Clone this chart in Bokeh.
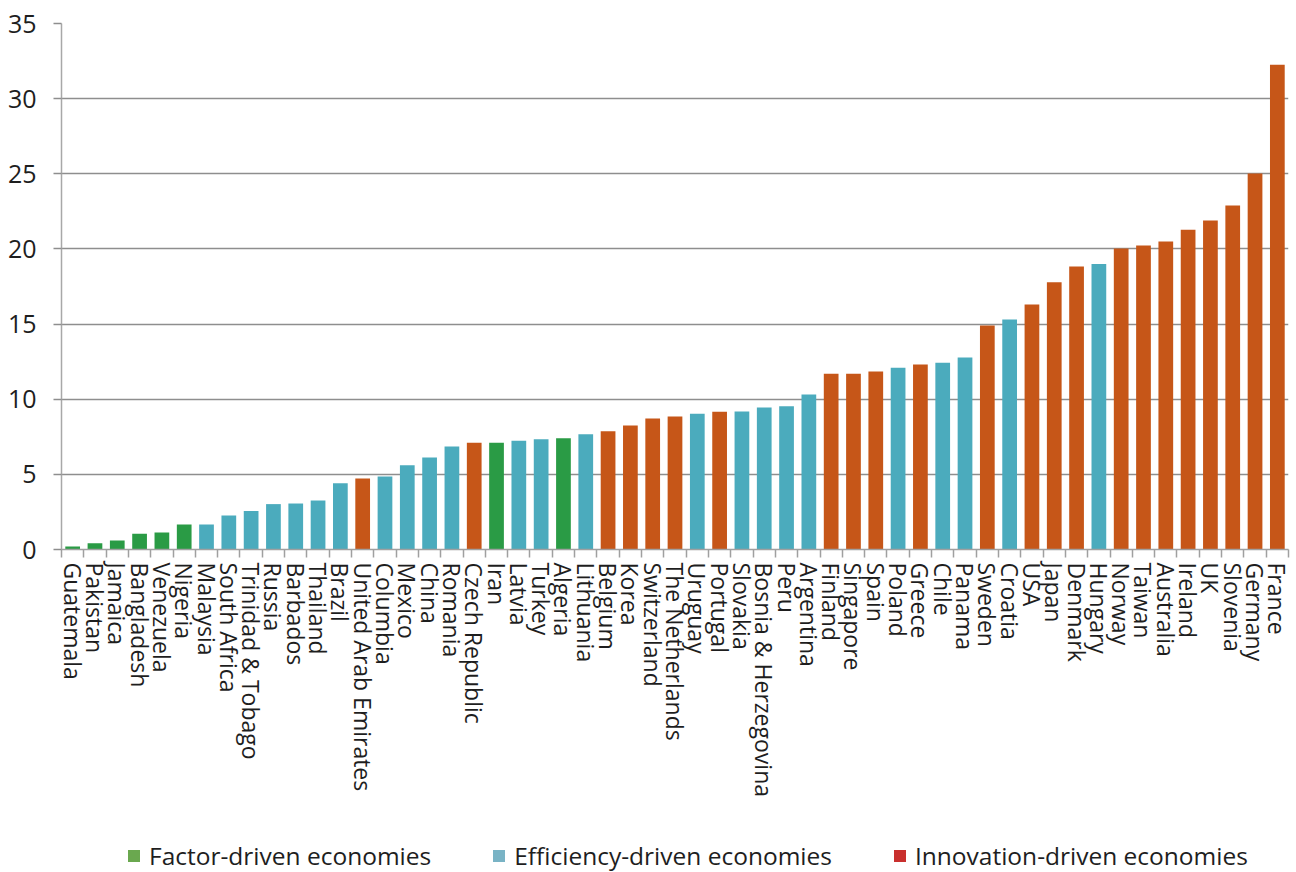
from bokeh.plotting import figure
from bokeh.layouts import column
from bokeh.models import Range1d, FixedTicker, Legend, LegendItem, ColumnDataSource
from bokeh.embed import file_html
from bokeh.resources import INLINE

countries = ["Guatemala", "Pakistan", "Jamaica", "Bangladesh", "Venezuela", "Nigeria",
             "Malaysia", "South Africa", "Trinidad & Tobago", "Russia", "Barbados", "Thailand",
             "Brazil", "United Arab Emirates", "Columbia", "Mexico", "China", "Romania",
             "Czech Republic", "Iran", "Latvia", "Turkey", "Algeria", "Lithuania", "Belgium",
             "Korea", "Switzerland", "The Netherlands", "Uruguay", "Portugal", "Slovakia",
             "Bosnia & Herzegovina", "Peru", "Argentina", "Finland", "Singapore", "Spain",
             "Poland", "Greece", "Chile", "Panama", "Sweden", "Croatia", "USA", "Japan",
             "Denmark", "Hungary", "Norway", "Taiwan", "Australia", "Ireland", "UK",
             "Slovenia", "Germany", "France"]

values = [0.2, 0.42, 0.6, 1.04, 1.13, 1.66,
          1.66, 2.26, 2.57, 3.02, 3.06, 3.26,
          4.41, 4.72, 4.86, 5.61, 6.12, 6.85,
          7.1, 7.1, 7.23, 7.34, 7.4, 7.67, 7.87,
          8.25, 8.72, 8.85, 9.03, 9.16, 9.18,
          9.45, 9.53, 10.31, 11.69, 11.69, 11.85,
          12.09, 12.31, 12.42, 12.78, 14.91, 15.31, 16.31, 17.79,
          18.83, 19.0, 20.03, 20.23, 20.49, 21.27, 21.89,
          22.89, 25.02, 32.25]

groups = ["F", "F", "F", "F", "F", "F",
          "E", "E", "E", "E", "E", "E",
          "E", "I", "E", "E", "E", "E",
          "I", "F", "E", "E", "F", "E", "I",
          "I", "I", "I", "E", "I", "E",
          "E", "E", "E", "I", "I", "I",
          "E", "I", "E", "E", "I", "E", "I", "I",
          "I", "E", "I", "I", "I", "I", "I",
          "I", "I", "I"]

legend_labels = ["Factor-driven economies", "Efficiency-driven economies", "Innovation-driven economies"]
y_ticks = [0, 5, 10, 15, 20, 25, 30, 35]

bar_colors = {"F": "#2a9b45", "E": "#4babbd", "I": "#c65618"}
legend_colors = ["#6aa84f", "#79b3c5", "#c9302e"]

FONT = "Open Sans"
TEXT = "#1e1e1e"
GRID = "#8e8e8e"

n = len(countries)
xs = list(range(n))
src = ColumnDataSource(dict(x=xs, top=values, color=[bar_colors[g] for g in groups]))

p = figure(frame_width=1227, frame_height=526,
           x_range=Range1d(-0.5, n - 0.5), y_range=Range1d(0, 35),
           output_backend="svg", toolbar_location=None,
           min_border_left=61, min_border_top=23, min_border_right=6, min_border_bottom=290)
p.outline_line_color = None
p.background_fill_color = "white"
p.border_fill_color = "white"

p.vbar(x="x", top="top", bottom=0, width=0.66, color="color", source=src,
       line_color=None)

# y axis
p.yaxis.ticker = FixedTicker(ticks=y_ticks)
p.yaxis.major_tick_out = 8
p.yaxis.major_tick_in = 0
p.yaxis.minor_tick_out = 0
p.yaxis.minor_tick_in = 0
p.yaxis.major_tick_line_color = GRID
p.yaxis.major_tick_line_width = 1.5
p.yaxis.axis_line_color = "#a8a8a8"
p.yaxis.axis_line_width = 1.5
p.yaxis.major_label_text_font = FONT
p.yaxis.major_label_text_font_size = "25px"
p.yaxis.major_label_text_color = TEXT
p.yaxis.major_label_standoff = 17

p.ygrid.ticker = FixedTicker(ticks=y_ticks)
p.ygrid.grid_line_color = GRID
p.ygrid.grid_line_width = 1.5
p.xgrid.grid_line_color = None

# x axis: labels at centres, tick marks at boundaries
p.xaxis.ticker = FixedTicker(ticks=xs, minor_ticks=[i - 0.5 for i in range(n + 1)])
p.xaxis.major_label_overrides = {i: c for i, c in enumerate(countries)}
p.xaxis.major_tick_out = 0
p.xaxis.major_tick_in = 0
p.xaxis.minor_tick_out = 8
p.xaxis.minor_tick_in = 0
p.xaxis.minor_tick_line_color = "#a0a0a0"
p.xaxis.minor_tick_line_width = 1.5
p.xaxis.axis_line_color = "#a0a0a0"
p.xaxis.axis_line_width = 1.5
p.xaxis.major_label_orientation = "vertical"
p.xaxis.major_label_text_font = FONT
p.xaxis.major_label_text_font_size = "23px"
p.xaxis.major_label_text_color = TEXT
p.xaxis.major_label_standoff = 5

# legend strip below the chart
lg = figure(width=1294, height=33, x_range=Range1d(0, 1), y_range=Range1d(0, 1),
            x_axis_type=None, y_axis_type=None, output_backend="svg",
            toolbar_location=None, min_border=0)
lg.outline_line_color = None
lg.grid.visible = False
items = []
for lab, col in zip(legend_labels, legend_colors):
    # zero-height, off-range bar: only provides the legend swatch
    r = lg.vbar(x=[-50], top=[0], bottom=0, width=0.5, color=col, line_color=None)
    items.append(LegendItem(label=lab, renderers=[r]))

legend = Legend(items=items, orientation="horizontal", location=(65, 0),
                padding=0, margin=0, spacing=60, label_standoff=8,
                glyph_width=15, glyph_height=15,
                label_text_font=FONT, label_text_font_size="24.5px",
                label_text_color=TEXT,
                border_line_color=None, background_fill_alpha=0)
lg.add_layout(legend, "center")

layout = column(p, lg, spacing=0)
open("out.html", "w").write(file_html(layout, INLINE))
